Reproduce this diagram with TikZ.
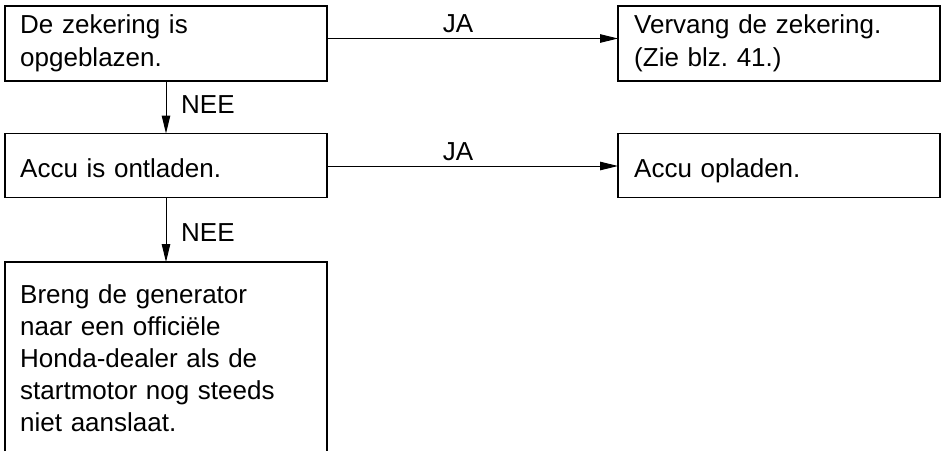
\documentclass[tikz,border=0pt]{standalone}
\usepackage{fontspec}
\setmainfont{Liberation Sans}
\usetikzlibrary{arrows.meta}
\frenchspacing
\begin{document}
\begin{tikzpicture}[x=1pt,y=-1pt,
  box/.style={draw, line width=1.3pt, inner sep=0pt, outer sep=0pt, anchor=north west, minimum width=322pt},
  openbox/.style={draw=none, inner sep=0pt, outer sep=0pt, anchor=north west, minimum width=322pt, minimum height=189pt},
  txt/.style={anchor=base west, inner sep=0pt, align=left, text width=310pt, font=\fontsize{26}{33}\selectfont\frenchspacing},
  txtb/.style={txt, font=\fontsize{26}{32}\selectfont\frenchspacing},
  lbl/.style={inner sep=0pt, font=\fontsize{26}{33}\selectfont},
  arr/.style={line width=1pt, -{Triangle[length=18pt,width=8.5pt]}}
]
\useasboundingbox (0,0) rectangle (943,451);

% boxes
\node[box, minimum height=75pt] (b1) at (5,6) {};
\node[box, minimum height=64pt] (b2) at (5,133.5) {};
\node[openbox] (b3) at (5,262) {};
\draw[line width=1.3pt] (b3.south west) -- (b3.north west) -- (b3.north east) -- (b3.south east);
\node[box, minimum height=75pt] (r1) at (618,6) {};
\node[box, minimum height=64pt] (r2) at (618,133.5) {};

% texts
\node[txt] (t1) at (20,33) {De zekering is\\opgeblazen.};
\node[txt] (t2) at (20,177) {Accu is ontladen.};
\node[txtb] (t3) at (20,303) {Breng de generator\\naar een officiële\\Honda-dealer als de\\startmotor nog steeds\\niet aanslaat.};
\node[txt] (tr1) at (634,33) {Vervang de zekering.\\(Zie blz. 41.)};
\node[txt] (tr2) at (634,177) {Accu opladen.};

% connectors
\draw[arr] ([yshift=5pt]b1.east) -- ([yshift=5pt]r1.west);
\draw[arr] ([yshift=-0.5pt]b2.east) -- ([yshift=-0.5pt]r2.west);
\draw[arr] (b1.south) -- (b2.north);
\draw[arr] (b2.south) -- (b3.north);

% labels
\node[lbl, anchor=base] (ja1) at (458,32) {JA};
\node[lbl, anchor=base] (ja2) at (458,160) {JA};
\node[lbl, anchor=base west] (nee1) at (181,113) {NEE};
\node[lbl, anchor=base west] (nee2) at (181,241) {NEE};
\end{tikzpicture}
\end{document}
